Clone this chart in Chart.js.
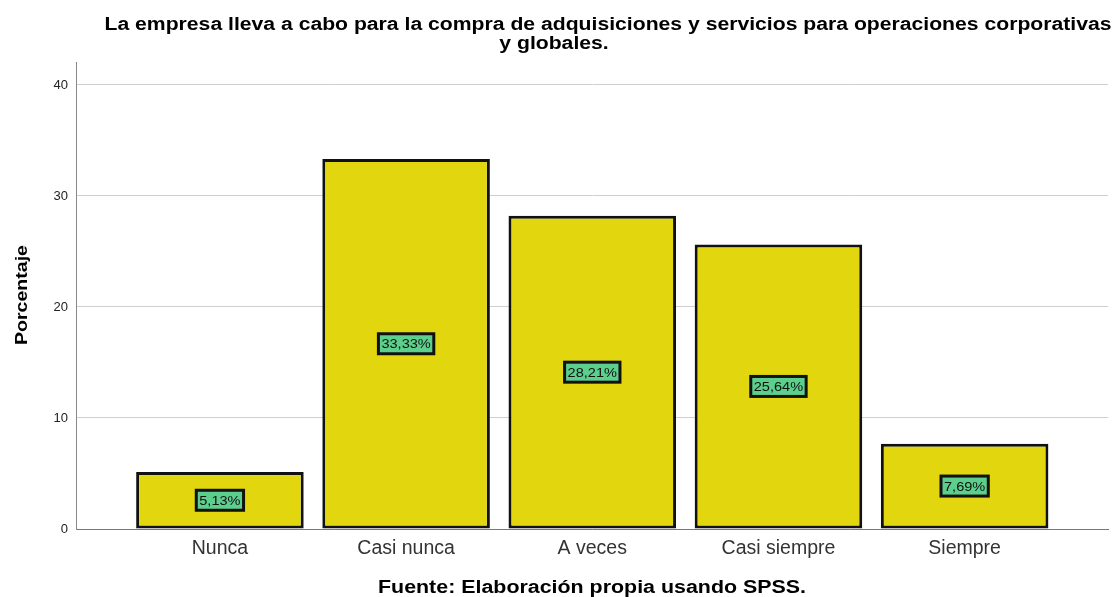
<!DOCTYPE html>
<html>
<head>
<meta charset="utf-8">
<script src="https://cdn.jsdelivr.net/npm/chart.js@4/dist/chart.umd.min.js"></script>
<style>
  html, body { margin: 0; padding: 0; background: #fff; }
  #wrap { width: 1116px; height: 597px; }
</style>
</head>
<body>
<div id="wrap"><canvas id="chart" width="1116" height="597"></canvas></div>
<script>
// Data
const categories = ['Nunca', 'Casi nunca', 'A veces', 'Casi siempre', 'Siempre'];
const percentages = [5.13, 33.33, 28.21, 25.64, 7.69];
const valueLabels = ['5,13%', '33,33%', '28,21%', '25,64%', '7,69%'];
const yTicks = [0, 10, 20, 30, 40];

const titleLines = ['La empresa lleva a cabo para la compra de adquisiciones y servicios para operaciones corporativas', 'y globales.'];
const yTitle = 'Porcentaje';
const footerText = 'Fuente: Elaboración propia usando SPSS.';
const font = '"Liberation Sans", Arial, sans-serif';

// SPSS text in the picture is a bit wider than Arial, so stretch it sideways
function wideText(ctx, text, x, y, stretch) {
    ctx.save();
    ctx.translate(x, y);
    ctx.scale(stretch, 1);
    ctx.fillText(text, 0, 0);
    ctx.restore();
}

// Draws the title, footer, axis title and the green value boxes
const textPlugin = {
    id: 'textPlugin',
    afterDatasetsDraw(chart) {
        const ctx = chart.ctx;
        const meta = chart.getDatasetMeta(0);
        ctx.save();
        ctx.font = '13px ' + font;
        ctx.textAlign = 'center';
        ctx.textBaseline = 'middle';
        meta.data.forEach((bar, i) => {
            const cx = bar.x;
            const cy = (bar.y + bar.base) / 2;
            const w = ctx.measureText(valueLabels[i]).width * 1.12 + 6;
            const h = 20;
            ctx.fillStyle = '#5ccf8c';
            ctx.fillRect(cx - w / 2, cy - h / 2, w, h);
            ctx.lineWidth = 3;
            ctx.strokeStyle = '#111';
            ctx.strokeRect(cx - w / 2, cy - h / 2, w, h);
            ctx.fillStyle = '#111';
            wideText(ctx, valueLabels[i], cx, cy + 1, 1.12);
        });
        ctx.restore();
    },
    afterDraw(chart) {
        const ctx = chart.ctx;
        ctx.save();
        ctx.fillStyle = '#000';
        ctx.textAlign = 'center';
        ctx.textBaseline = 'middle';
        ctx.font = 'bold 18px ' + font;
        let w0 = ctx.measureText(titleLines[0]).width;
        wideText(ctx, titleLines[0], 608, 25, 1007 / w0);
        wideText(ctx, titleLines[1], 554, 44, 1007 / w0);
        let wf = ctx.measureText(footerText).width;
        wideText(ctx, footerText, 592, 588, 428 / wf);
        // y axis title, rotated
        ctx.font = 'bold 17px ' + font;
        let wy = ctx.measureText(yTitle).width;
        ctx.translate(22, 295);
        ctx.rotate(-Math.PI / 2);
        wideText(ctx, yTitle, 0, 0, 100 / wy);
        ctx.restore();
    }
};

const ctx = document.getElementById('chart').getContext('2d');
let chart = new Chart(ctx, {
    type: 'bar',
    data: {
        datasets: [{
            data: percentages.map((v, i) => ({ x: i, y: v })),
            backgroundColor: '#e2d70e',
            borderColor: '#111',
            borderWidth: 3,
            borderSkipped: false,
            barPercentage: 0.9,
            categoryPercentage: 1.0
        }]
    },
    plugins: [textPlugin],
    options: {
        responsive: false,
        animation: false,
        layout: { padding: { top: 62, right: 8, left: 0, bottom: 0 } },
        plugins: {
            legend: { display: false },
            tooltip: { enabled: false }
        },
        scales: {
            x: {
                type: 'linear',
                offset: false,
                min: -0.773,
                max: 4.77,
                afterFit: scale => { scale.height = 68; },
                afterBuildTicks: axis => {
                    axis.ticks = categories.map((c, i) => ({ value: i }));
                },
                ticks: {
                    autoSkip: false,
                    maxRotation: 0,
                    padding: 8,
                    color: '#333',
                    font: { family: font, size: 19.5 },
                    callback: value => categories[value]
                },
                grid: { display: false, drawTicks: false },
                border: { color: '#777', width: 1 }
            },
            y: {
                min: 0,
                max: 42.07,
                afterFit: scale => { scale.width = 76; },
                afterBuildTicks: axis => {
                    axis.ticks = yTicks.map(v => ({ value: v }));
                },
                ticks: {
                    padding: 8,
                    color: '#222',
                    font: { family: font, size: 13 }
                },
                grid: { color: '#cfcfcf', lineWidth: 1, drawTicks: false },
                border: { color: '#888', width: 1 }
            }
        }
    }
});
</script>
</body>
</html>
